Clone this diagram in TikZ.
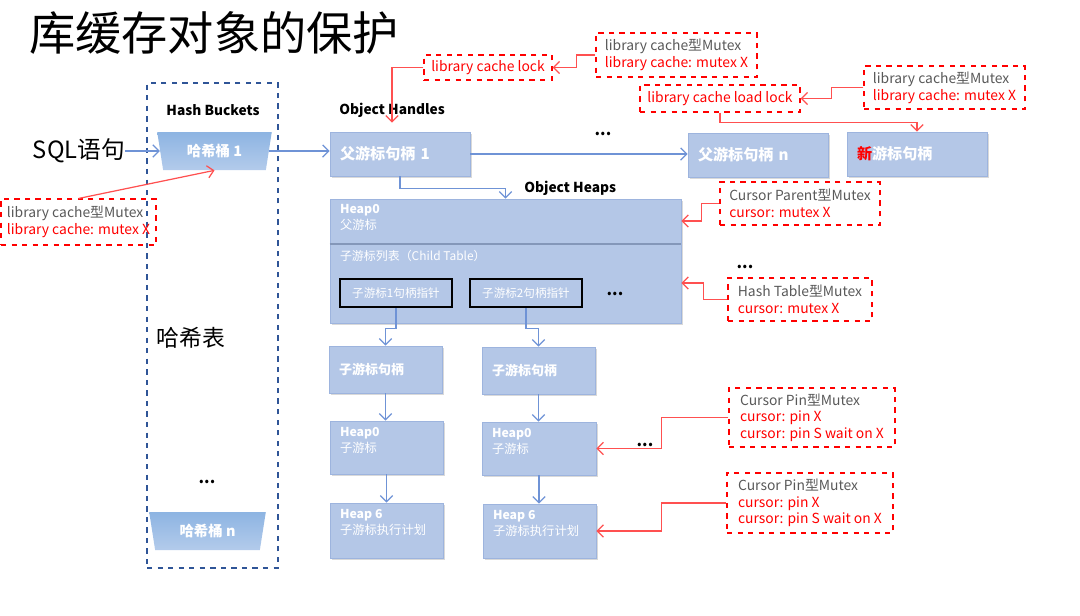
\documentclass[tikz,border=0pt]{standalone}
\usepackage{fontspec}
\setmainfont{Noto Sans CJK SC}
\usetikzlibrary{arrows.meta,positioning,shapes.geometric,shadows}
\definecolor{boxblue}{HTML}{B4C7E7}
\definecolor{boxedge}{HTML}{9DB4DE}
\definecolor{divline}{HTML}{8497B9}
\definecolor{lineblue}{HTML}{6F93D6}
\definecolor{linered}{HTML}{FF5050}
\definecolor{mtxgray}{HTML}{595959}
\definecolor{tblblue}{HTML}{2F5597}
\definecolor{bktop}{HTML}{8DB4E2}
\definecolor{bkbot}{HTML}{B3CBEB}
\newcommand{\mtxname}[1]{{\color{mtxgray}#1}\\}
\tikzset{
  blk/.style={draw=boxedge,fill=boxblue,text=white,inner xsep=0.2cm,inner ysep=0pt,align=left,
    font=\bfseries\fontsize{7.4}{9}\selectfont,
    drop shadow={shadow xshift=1pt,shadow yshift=-1pt,opacity=.25,fill=black!60}},
  hnd/.style={blk,text width=2.4cm,minimum height=0.88cm,font=\bfseries\fontsize{8.6}{10}\selectfont},
  intxt/.style={text=white,inner sep=0pt,align=left,font=\fontsize{7}{9.1}\selectfont},
  ptr/.style={draw=black,line width=1.4pt,fill=boxblue,text=white,minimum width=2.24cm,
    minimum height=0.56cm,inner sep=0pt,font=\fontsize{6.6}{8}\selectfont},
  bucket/.style={trapezium,trapezium stretches=true,trapezium angle=77,shape border rotate=180,
    minimum width=2.3cm,minimum height=0.76cm,top color=bktop,bottom color=bkbot,draw=none,
    text=white,inner sep=0pt,font=\bfseries\fontsize{8.2}{10}\selectfont},
  mtx/.style={draw=red,dashed,line width=0.6pt,text=red,align=left,inner sep=0pt,
    font=\fontsize{7.9}{9.5}\selectfont},
  hdr/.style={font=\bfseries\fontsize{7.8}{9}\selectfont,inner sep=0pt},
  dots/.style={font=\bfseries\fontsize{9}{10}\selectfont,inner sep=0pt},
  barrow/.style={->,draw=lineblue,line width=0.7pt},
  rarrow/.style={->,draw=linered,line width=0.7pt},
}
\begin{document}
\begin{tikzpicture}[x=0.02cm,y=-0.02cm,>={Straight Barb[length=3.5pt,width=7pt]}]
\useasboundingbox (0,0) rectangle (1080,616);

% left side: statement and hash table
\node[anchor=west,inner sep=0pt,font=\fontsize{26.3}{29}\selectfont] (title) at (29,33) {库缓存对象的保护};
\node[font=\fontsize{13.5}{15}\selectfont,inner sep=0pt] (sql) at (79,151) {SQL语句};
\node[draw=tblblue,dashed,line width=0.8pt,minimum width=2.62cm,minimum height=9.7cm] (tbl) at (212.5,325.5) {};
\node[hdr] (bkt) at (213,110) {Hash Buckets};
\node[bucket] (b1) at (214.5,151) {哈希桶 1};
\node[font=\fontsize{13}{15}\selectfont,inner sep=0pt] (htxt) at (191,338) {哈希表};
\node[dots] (d1) at (207,482) {...};
\node[bucket,minimum width=2.34cm] (bn) at (207.5,531) {哈希桶 n};
\node[mtx,minimum width=3.1cm,minimum height=0.92cm] (mtxL) at (78.5,222) {\mtxname{library cache型Mutex}library cache: mutex X};

% object handles
\node[hdr,anchor=west] (ohd) at (339,110) {Object Handles};
\node[hnd] (ph1) at (400,154) {父游标句柄 1};
\node[dots] (d5) at (603,134) {...};
\node[hnd] (phn) at (758,155) {父游标句柄 n};
\node[hnd] (pnew) at (917,154) {\textcolor{red}{新}游标句柄};

\node[mtx,minimum width=2.56cm,minimum height=0.5cm] (lock) at (488,67.5) {library cache lock};
\node[mtx,minimum width=3.22cm,minimum height=0.88cm] (mtxA) at (676.5,55) {\mtxname{library cache型Mutex}library cache: mutex X};
\node[mtx,minimum width=3.2cm,minimum height=0.54cm] (load) at (720,98.5) {library cache load lock};
\node[mtx,minimum width=3.22cm,minimum height=0.86cm] (mtxB) at (944.5,87.5) {\mtxname{library cache型Mutex}library cache: mutex X};

% parent heap
\node[hdr,anchor=west] (ohp) at (524,188) {Object Heaps};
\node[blk,minimum width=7.02cm,minimum height=2.48cm] (heap) at (505.5,261) {};
\draw[divline,line width=1.2pt] ([shift={(0,45)}]heap.north west) -- ([shift={(0,45)}]heap.north east);
\node[intxt,anchor=north west] (heapt) at ([shift={(10,5)}]heap.north west) {\textbf{Heap0}\\父游标};
\node[intxt,anchor=west,font=\fontsize{6.8}{8}\selectfont] (ctab) at ([shift={(10,57)}]heap.north west) {子游标列表（Child Table）};
\node[ptr] (ptr1) at (396,293) {子游标1句柄指针};
\node[ptr] (ptr2) at (526,293) {子游标2句柄指针};
\node[dots] (d2) at (615,294) {...};

\node[mtx,minimum width=3.2cm,minimum height=0.86cm] (cpar) at (800,203.5) {\mtxname{Cursor Parent型Mutex}cursor: mutex X};
\node[dots] (d3) at (745,267) {...};
\node[mtx,minimum width=2.88cm,minimum height=0.86cm] (htab) at (800,299.5) {\mtxname{Hash Table型Mutex}cursor: mutex X};

% child cursors
\node[blk,text width=1.86cm,minimum height=0.94cm] (chA) at (385.5,369.5) {子游标句柄};
\node[blk,text width=1.86cm,minimum height=0.94cm] (chB) at (538.5,370.5) {子游标句柄};
\node[blk,minimum width=2.26cm,minimum height=1.06cm] (hpA) at (386.5,447.5) {};
\node[blk,minimum width=2.28cm,minimum height=1.06cm] (hpB) at (539,448.5) {};
\node[blk,minimum width=2.26cm,minimum height=1.1cm] (hsA) at (386.5,530.5) {};
\node[blk,minimum width=2.26cm,minimum height=1.08cm] (hsB) at (539.5,531) {};
\node[intxt,anchor=north west] (hpAt) at ([shift={(10,6)}]hpA.north west) {\textbf{Heap0}\\子游标};
\node[intxt,anchor=north west] (hpBt) at ([shift={(10,6)}]hpB.north west) {\textbf{Heap0}\\子游标};
\node[intxt,anchor=north west] (hsAt) at ([shift={(10,6)}]hsA.north west) {\textbf{Heap 6}\\子游标执行计划};
\node[intxt,anchor=north west] (hsBt) at ([shift={(10,6)}]hsB.north west) {\textbf{Heap 6}\\子游标执行计划};

\node[mtx,minimum width=3.32cm,minimum height=1.18cm] (pin1) at (812,417.5) {\mtxname{Cursor Pin型Mutex}cursor: pin X\\cursor: pin S wait on X};
\node[dots] (d4) at (645,445) {...};
\node[mtx,minimum width=3.32cm,minimum height=1.2cm] (pin2) at (810,503) {\mtxname{Cursor Pin型Mutex}cursor: pin X\\cursor: pin S wait on X};

% blue connectors
\draw[barrow] (sql.east) -- (sql.east -| b1.west);
\draw[barrow] (b1.east) -- (b1.east -| ph1.west);
\draw[barrow] (ph1.east) -- (ph1.east -| phn.west);
\draw[barrow] (ph1.south) -- ++(0,12) -| (heap.north);
\draw[barrow] (ptr1.south) -- ++(0,20) -| (chA.north);
\draw[barrow] (ptr2.south) -- ++(0,20) -| (chB.north);
\draw[barrow] (chA.south) -- (chA.south |- hpA.north);
\draw[barrow] (hpA.south) -- (hpA.south |- hsA.north);
\draw[barrow] (chB.south) -- (chB.south |- hpB.north);
\draw[barrow] (hpB.south) -- (hpB.south |- hsB.north);

% red connectors
\draw[rarrow] (mtxL.north) -- (b1.south);
\draw[rarrow] (lock.west) -| ([shift={(-8,-9)}]ph1.north);
\draw[rarrow] (mtxA.west) -- ++(-19,0) |- (lock.east);
\draw[rarrow] (mtxB.west) -- ++(-32,0) |- (load.east);
\draw[rarrow] (load.south) -- ++(0,10) -| (pnew.north);
\draw[rarrow] (cpar.west) -- ++(-18,0) |- ([shift={(0,-40)}]heap.east);
\draw[rarrow] (htab.west) -- ++(-24,0) |- ([shift={(0,22)}]heap.east);
\draw[rarrow] (pin1.west) -- ++(-67,0) |- (hpB.east);
\draw[rarrow] (pin2.west) -- ++(-65,0) |- (hsB.east);
\end{tikzpicture}
\end{document}
